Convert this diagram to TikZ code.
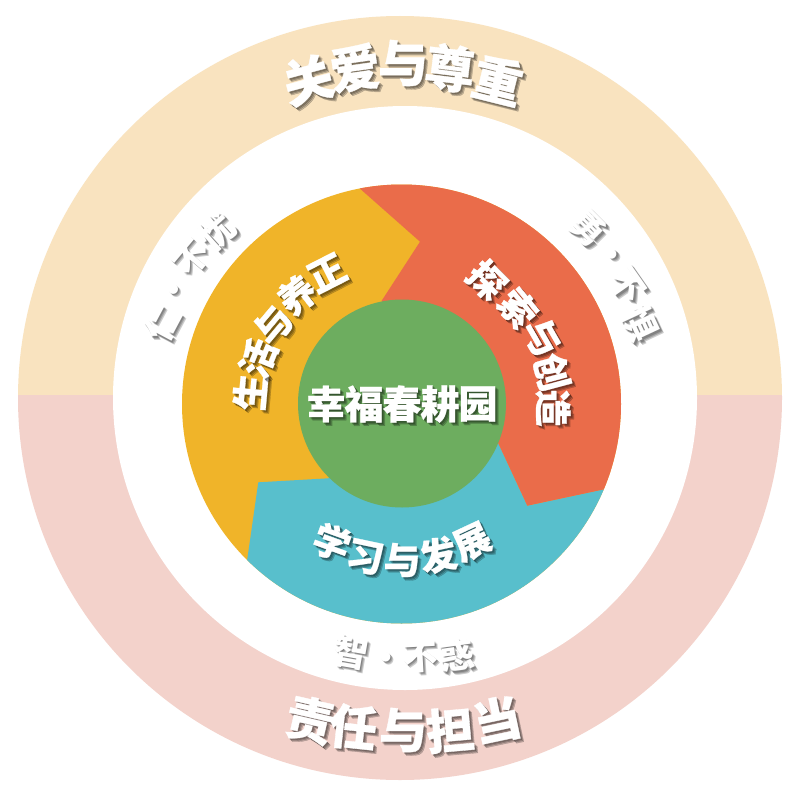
\documentclass[tikz,border=0pt]{standalone}
\usepackage{fontspec}
\newfontfamily\cjk[FakeBold=0.7]{Noto Sans CJK SC Black}
\newfontfamily\cjkplain{Noto Sans CJK SC Black}
\definecolor{ringtop}{HTML}{F9E3BF}
\definecolor{ringbot}{HTML}{F3D2CB}
\definecolor{segred}{HTML}{EA6C4A}
\definecolor{segorange}{HTML}{F0B429}
\definecolor{segblue}{HTML}{58BFCC}
\definecolor{segcore}{HTML}{6DAD5F}
\newcounter{chno}
\tikzset{
  glyph/.style={inner sep=0pt,outer sep=0pt,text=white},
  glyphshade/.style={inner sep=0pt,outer sep=0pt,text=black,text opacity=0.2},
}
% x, y, clockwise rotation, size, character
\newcommand{\ch}[5]{%
  \stepcounter{chno}%
  \foreach \d in {1.4,2.4,3.4}{%
    \node[glyphshade,rotate=-#3] (s\thechno-\d) at (#1+\d,#2+\d) {\fontsize{#4}{#4}\cjk #5};
  }%
  \node[glyph,rotate=-#3] (c\thechno) at (#1,#2) {\fontsize{#4}{#4}\cjk #5};
}
% the same, lighter, for the small virtue labels
\newcommand{\chs}[4]{%
  \stepcounter{chno}%
  \foreach \d in {1.4,2.4,3.4}{%
    \node[glyphshade,rotate=-#3] (s\thechno-\d) at (#1+\d,#2+\d) {\fontsize{35}{35}\cjkplain #4};
  }%
  \node[glyph,rotate=-#3] (c\thechno) at (#1,#2) {\fontsize{35}{35}\cjkplain #4};
}
\begin{document}
\begin{tikzpicture}[x=1pt,y=-1pt]
\useasboundingbox (0,0) rectangle (800,800);
\fill[white] (0,0) rectangle (800,800);
% outer ring
\begin{scope}
  \clip (0,0) rectangle (800,395);
  \fill[ringtop] (400,398) circle[radius=382];
\end{scope}
\begin{scope}
  \clip (0,395) rectangle (800,800);
  \fill[ringbot] (400,398) circle[radius=382];
\end{scope}
\fill[white] (405,398) circle[radius=292];
% inner disc
\fill[segorange] (401.5,404) circle[radius=219.5];
\begin{scope}
  \clip (401.5,404) circle[radius=219.5];
  \fill[segblue] (402,404) -- (328.3,478.3) -- (258.3,482.3) -- (240,610) -- (240,680) -- (700,680) -- (700,468.8) -- (527.3,505.7) -- (498.3,443.3) -- cycle;
  \fill[segred] (402,404) -- (381.7,300.7) -- (420,241.7) -- (340,171) -- (340,120) -- (700,120) -- (700,468.8) -- (527.3,505.7) -- (498.3,443.3) -- cycle;
\end{scope}
\fill[segcore] (402,403.5) circle[radius=104];
% outer titles
\ch{308}{80}{-15}{50}{关}
\ch{355}{68}{-8}{50}{爱}
\ch{403}{63}{0}{50}{与}
\ch{450}{68}{7}{50}{尊}
\ch{498}{80}{14}{50}{重}
\ch{310}{720}{13}{48}{责}
\ch{353}{727}{6}{48}{任}
\ch{403}{730}{0}{48}{与}
\ch{450}{730}{-5}{48}{担}
\ch{497}{720}{-12}{48}{当}
% virtues
\chs{351}{652}{10}{智}
\chs{386}{661}{0}{·}
\chs{420}{657}{-3}{不}
\chs{457}{655}{-8}{惑}
\chs{163}{323}{-62}{仁}
\chs{177}{292}{-55}{·}
\chs{192}{258}{-50}{不}
\chs{217}{232}{-42}{忧}
\chs{588}{228}{45}{勇}
\chs{609}{257}{50}{·}
\chs{627}{285}{55}{不}
\chs{640}{323}{65}{惧}
% segments
\ch{250}{392}{-85}{37}{生}
\ch{258}{358}{-68}{37}{活}
\ch{273}{325}{-50}{37}{与}
\ch{297}{295}{-38}{37}{养}
\ch{327}{273}{-27}{37}{正}
\ch{487}{280}{45}{37}{探}
\ch{518}{308}{50}{37}{索}
\ch{542}{337}{60}{37}{与}
\ch{552}{372}{75}{37}{创}
\ch{553}{408}{90}{37}{造}
\ch{332}{542}{20}{37}{学}
\ch{365}{557}{12}{37}{习}
\ch{402}{560}{0}{37}{与}
\ch{438}{555}{-12}{37}{发}
\ch{472}{542}{-25}{37}{展}
% centre
\ch{326}{404}{0}{39}{幸}
\ch{364}{404}{0}{39}{福}
\ch{402}{404}{0}{39}{春}
\ch{440}{404}{0}{39}{耕}
\ch{478}{404}{0}{39}{园}
\end{tikzpicture}
\end{document}
